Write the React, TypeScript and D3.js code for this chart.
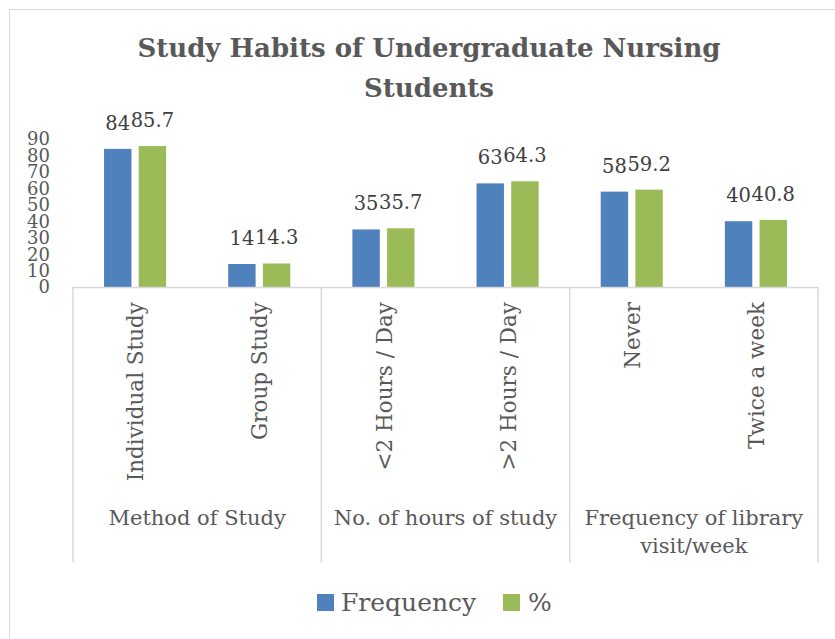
import React from "react";
import * as d3 from "d3";

// chart data
const categories = [
  "Individual Study",
  "Group Study",
  "<2 Hours / Day",
  ">2 Hours / Day",
  "Never",
  "Twice a week",
];
const groups = [
  { label: ["Method of Study"], size: 2 },
  { label: ["No. of hours of study"], size: 2 },
  { label: ["Frequency of library", "visit/week"], size: 2 },
];
const frequency = [84, 14, 35, 63, 58, 40];
const percent = [85.7, 14.3, 35.7, 64.3, 59.2, 40.8];
const seriesNames = ["Frequency", "%"];
const yTicks = [0, 10, 20, 30, 40, 50, 60, 70, 80, 90];

const colors = ["#4F81BD", "#9BBB59"];
const textColor = "#595959";
const lineColor = "#D9D9D9";
const font = "'DejaVu Serif', serif";

const width = 835;
const height = 639;
const plot = { left: 73, right: 818, top: 139, bottom: 287 };

export default function App() {
  const x0 = d3
    .scaleBand()
    .domain(categories)
    .range([plot.left, plot.right])
    .paddingInner(0.5)
    .paddingOuter(0.25);
  const x1 = d3
    .scaleBand()
    .domain(seriesNames)
    .range([0, x0.bandwidth()])
    .paddingInner(0.21);
  const y = d3.scaleLinear().domain([0, 90]).range([plot.bottom, plot.top]);
  const step = x0.step();

  const series = [frequency, percent];

  // group boundaries
  let idx = 0;
  const bounds = [plot.left];
  groups.forEach((g) => {
    idx += g.size;
    bounds.push(plot.left + idx * step);
  });

  return (
    <svg
      width={width}
      height={height}
      style={{ position: "absolute", left: 0, top: 0, background: "#fff" }}
      fontFamily={font}
    >
      <rect x={9.5} y={9.5} width={840} height={650} fill="#fff" stroke={lineColor} />

      <text
        x={429}
        y={57}
        textAnchor="middle"
        fontSize={26}
        fontWeight="bold"
        fill={textColor}
      >
        Study Habits of Undergraduate Nursing
      </text>
      <text
        x={429}
        y={97}
        textAnchor="middle"
        fontSize={26}
        fontWeight="bold"
        fill={textColor}
      >
        Students
      </text>

      {/* y axis labels */}
      {yTicks.map((t) => (
        <text
          key={t}
          x={50}
          y={y(t)}
          dy="0.36em"
          textAnchor="end"
          fontSize={18}
          fill={textColor}
        >
          {t}
        </text>
      ))}

      {/* bars */}
      {series.map((vals, si) =>
        vals.map((v, i) => (
          <rect
            key={`${si}-${i}`}
            x={(x0(categories[i]) || 0) + (x1(seriesNames[si]) || 0)}
            y={y(v)}
            width={x1.bandwidth()}
            height={y(0) - y(v)}
            fill={colors[si]}
          />
        ))
      )}

      {/* data labels */}
      {series.map((vals, si) =>
        vals.map((v, i) => (
          <text
            key={`l${si}-${i}`}
            x={(x0(categories[i]) || 0) + (x1(seriesNames[si]) || 0) + x1.bandwidth() / 2}
            y={y(v) - 19}
            textAnchor="middle"
            fontSize={19.5}
            fill="#404040"
          >
            {v}
          </text>
        ))
      )}

      {/* axis line */}
      <line
        x1={plot.left}
        x2={plot.right}
        y1={plot.bottom + 0.5}
        y2={plot.bottom + 0.5}
        stroke={lineColor}
        strokeWidth={1.5}
      />
      {bounds.map((b, i) => (
        <line
          key={i}
          x1={b}
          x2={b}
          y1={plot.bottom}
          y2={562}
          stroke={lineColor}
          strokeWidth={1.5}
        />
      ))}

      {/* category labels */}
      {categories.map((c) => {
        const cx = (x0(c) || 0) + x0.bandwidth() / 2;
        return (
          <text
            key={c}
            transform={`translate(${cx},302) rotate(-90)`}
            dy="0.38em"
            textAnchor="end"
            fontSize={21.5}
            fill={textColor}
          >
            {c}
          </text>
        );
      })}

      {/* group labels */}
      {groups.map((g, gi) => {
        const cx = (bounds[gi] + bounds[gi + 1]) / 2;
        return g.label.map((l, li) => (
          <text
            key={`${gi}-${li}`}
            x={cx}
            y={525 + li * 28}
            textAnchor="middle"
            fontSize={21}
            fill={textColor}
          >
            {l}
          </text>
        ));
      })}

      {/* legend */}
      <g>
        <rect x={317} y={594} width={17} height={17} fill={colors[0]} />
        <text x={341} y={611} fontSize={25} fill={textColor}>
          {seriesNames[0]}
        </text>
        <rect x={503} y={594} width={17} height={17} fill={colors[1]} />
        <text x={528} y={611} fontSize={25} fill={textColor}>
          {seriesNames[1]}
        </text>
      </g>
    </svg>
  );
}
